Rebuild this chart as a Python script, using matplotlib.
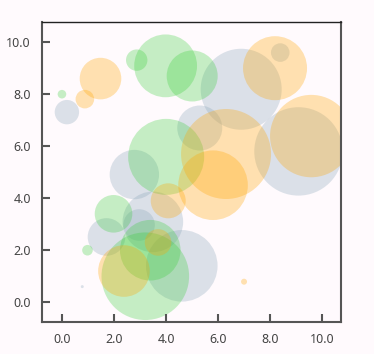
import matplotlib
matplotlib.use("Agg")
import matplotlib.pyplot as plt
import numpy as np

# bubble data: x, y and radius (in pixels) for each group
gray_x = [0.19, 6.88, 5.29, 9.08, 2.78, 1.71, 2.96, 3.49, 4.60, 0.78, 8.38]
gray_y = [7.31, 8.19, 6.70, 5.80, 4.91, 2.51, 2.97, 3.09, 1.40, 0.60, 9.60]
gray_r = [12.2, 40.5, 22.5, 44.2, 24.7, 18.8, 15.8, 30.3, 35.8, 1.5, 9.3]

green_x = [0.0, 2.87, 3.98, 5.0, 4.0, 1.98, 0.98, 3.39, 3.2]
green_y = [8.0, 9.31, 9.09, 8.70, 5.59, 3.40, 2.0, 2.0, 1.0]
green_r = [4.3, 10.7, 31.4, 25.5, 38, 18.8, 5.3, 30.3, 43.8]

orange_x = [0.88, 1.48, 8.18, 9.57, 6.3, 5.80, 4.08, 3.69, 2.38, 6.99]
orange_y = [7.81, 8.6, 9.0, 6.39, 5.70, 4.50, 3.90, 2.30, 1.20, 0.79]
orange_r = [9.3, 20.8, 32, 41.2, 45, 34.8, 17.5, 13.3, 25.8, 3]

ticks = [0, 2, 4, 6, 8, 10]
tick_labels = ["0.0", "2.0", "4.0", "6.0", "8.0", "10.0"]

bg = "#fffafd"
fig = plt.figure(figsize=(3.74, 3.54), dpi=100, facecolor=bg)
ax = fig.add_axes([0.112, 0.0904, 0.801, 0.847], facecolor=bg)

def sz(r):
    # pixel radius -> marker area in points^2
    return (2 * np.array(r) * 0.72) ** 2

ax.scatter(gray_x, gray_y, s=sz(gray_r), color="#8aa5b9", alpha=0.3, linewidths=0)
ax.scatter(green_x, green_y, s=sz(green_r), color="#32cd32", alpha=0.28, linewidths=0)
ax.scatter(orange_x, orange_y, s=sz(orange_r), color="#ffa500", alpha=0.3, linewidths=0)

ax.set_xlim(-0.77, 10.73)
ax.set_ylim(-0.76, 10.77)
ax.set_xticks(ticks)
ax.set_xticklabels(tick_labels)
ax.set_yticks(ticks)
ax.set_yticklabels(tick_labels)

ax.tick_params(direction="in", length=6, width=1.5, color="#555555",
               labelsize=9, labelcolor="#444444", pad=8)
for t in ax.get_xticklabels() + ax.get_yticklabels():
    t.set_fontfamily("Noto Sans")
for side in ["left", "bottom", "right"]:
    ax.spines[side].set_color("#555555")
    ax.spines[side].set_linewidth(1.5)
ax.spines["top"].set_color("#222222")
ax.spines["top"].set_linewidth(1.0)

fig.savefig("out.png", dpi=100, facecolor=bg)
